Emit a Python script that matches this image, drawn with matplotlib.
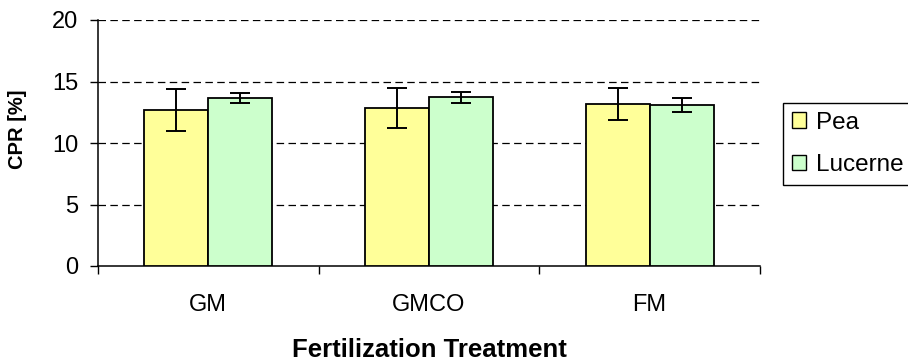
import numpy as np
import matplotlib
matplotlib.use("Agg")
import matplotlib.pyplot as plt
from matplotlib.patches import Patch

# data
treatments = ["GM", "GMCO", "FM"]
pea_mean = [12.7, 12.85, 13.15]
pea_err = [1.72, 1.63, 1.32]
lucerne_mean = [13.68, 13.7, 13.1]
lucerne_err = [0.4, 0.42, 0.58]
y_ticks = [0, 5, 10, 15, 20]

plt.rcParams['font.family'] = ['Liberation Sans', 'DejaVu Sans']

fig = plt.figure(figsize=(9.08, 3.63), dpi=100)
ax = fig.add_axes([98 / 908, 1 - 266 / 363, 662 / 908, 246 / 363])

x = np.arange(len(treatments))
w = 0.29
err_kw = dict(ecolor='black', elinewidth=1.4, capsize=7, capthick=1.4)
ax.bar(x - w / 2, pea_mean, w, yerr=pea_err, color='#FFFF99', edgecolor='black',
       linewidth=1.3, error_kw=err_kw, zorder=3)
ax.bar(x + w / 2, lucerne_mean, w, yerr=lucerne_err, color='#CCFFCC', edgecolor='black',
       linewidth=1.3, error_kw=err_kw, zorder=3)

ax.set_xlim(-0.5, 2.5)
ax.set_ylim(0, 20)
ax.set_yticks(y_ticks)
for t in y_ticks[1:]:
    ax.axhline(t, color='black', lw=0.9, dashes=(6, 3.5), zorder=1)

ax.set_xticks(x)
ax.set_xticklabels(treatments, fontsize=17)
ax.set_xticks([-0.5, 0.5, 1.5, 2.5], minor=True)
ax.tick_params(axis='x', which='major', length=0, pad=20)
ax.tick_params(axis='x', which='minor', length=6, width=1, direction='out')
ax.tick_params(axis='y', length=6, width=1, direction='out', labelsize=17, pad=8)

for s in ['top', 'right']:
    ax.spines[s].set_visible(False)
for s in ['left', 'bottom']:
    ax.spines[s].set_linewidth(1.1)

ax.set_xlabel('Fertilization Treatment', fontsize=18.5, fontweight='bold', labelpad=16)
ax.set_ylabel('CPR [%]', fontsize=14.5, fontweight='bold')
ax.yaxis.set_label_coords(-0.108, 0.557)

handles = [Patch(facecolor='#FFFF99', edgecolor='black', label='Pea'),
           Patch(facecolor='#CCFFCC', edgecolor='black', label='Lucerne')]
fig.legend(handles=handles, loc='upper left', bbox_to_anchor=(783 / 908, 1 - 103 / 363),
           fontsize=17.5, frameon=True, fancybox=False, edgecolor='black', framealpha=1,
           borderpad=0.35, labelspacing=0.85, handlelength=0.6, handleheight=0.6,
           handletextpad=0.4, borderaxespad=0)

fig.savefig('out.png', dpi=100)
